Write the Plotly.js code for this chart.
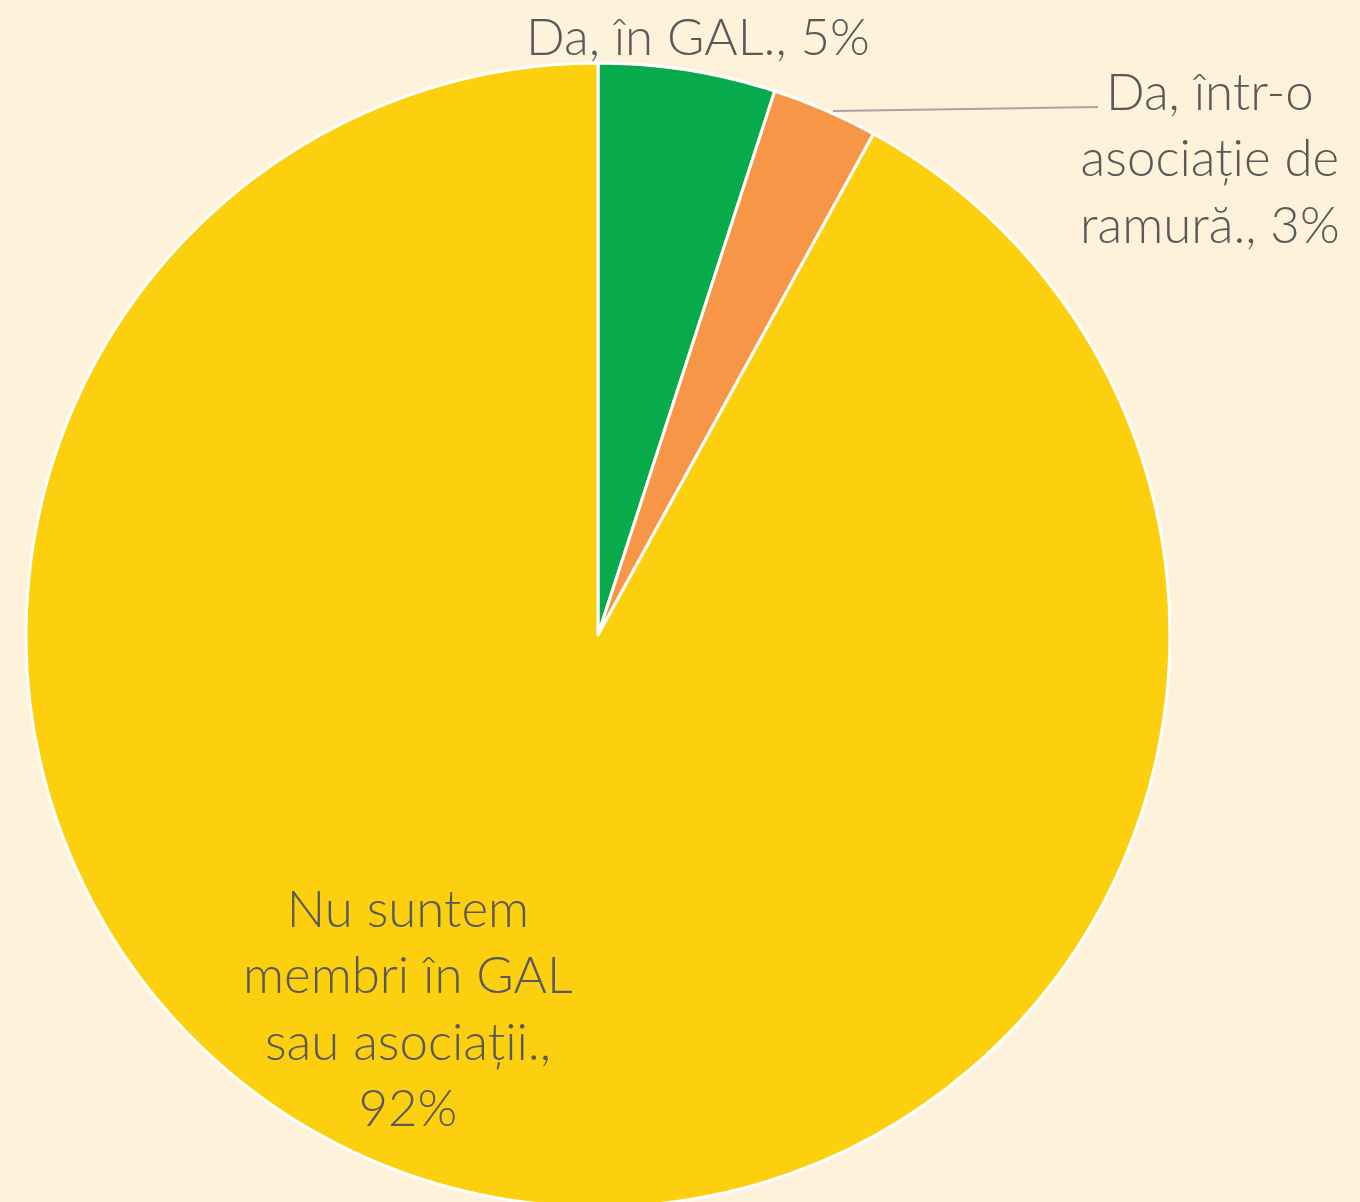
<!DOCTYPE html>
<html>
<head>
<meta charset="utf-8">
<script src="https://cdn.plot.ly/plotly-3.0.1.min.js"></script>
<style>html,body{margin:0;padding:0;overflow:hidden;background:#FFF2DA;}</style>
</head>
<body>
<div id="chart"></div>
<script>
const categories = ["Da, în GAL.", "Da, într-o asociație de ramură.", "Nu suntem membri în GAL sau asociații."];
const values = [5, 3, 92];
const labelTexts = ["Da, în GAL., 5%", "Da, într-o<br>asociație de<br>ramură., 3%", "Nu suntem<br>membri în GAL<br>sau asociații.,<br>92%"];
const colors = ["#07AB4C", "#F79646", "#FDD00F"];

const W = 1360, H = 1207;
const px = x => x / W;
const py = y => 1 - y / H;
const font = {family: "Lato, sans-serif", size: 51, color: "#595959", weight: 300};

const trace = {
  type: "pie",
  labels: categories,
  values: values,
  sort: false,
  direction: "clockwise",
  rotation: 0,
  textinfo: "none",
  hoverinfo: "label+percent",
  marker: {colors: colors, line: {color: "#FFFFFF", width: 3}},
  domain: {x: [26 / W, 1170 / W], y: [0, 1 - 63 / H]},
  showlegend: false
};

const layout = {
  width: W, height: H,
  margin: {l: 0, r: 0, t: 0, b: 0},
  paper_bgcolor: "#FFF2DA",
  plot_bgcolor: "#FFF2DA",
  showlegend: false,
  annotations: [
    {text: labelTexts[0], x: px(698), y: py(36), xref: "paper", yref: "paper", xanchor: "center", yanchor: "middle", showarrow: false, font: font},
    {text: labelTexts[1], x: px(1210), y: py(157), xref: "paper", yref: "paper", xanchor: "center", yanchor: "middle", align: "center", showarrow: false, font: font},
    {text: labelTexts[2], x: px(408), y: py(1007), xref: "paper", yref: "paper", xanchor: "center", yanchor: "middle", align: "center", showarrow: false, font: font}
  ],
  shapes: [
    {type: "line", xref: "paper", yref: "paper", x0: px(833), y0: py(111), x1: px(1098), y1: py(107), line: {color: "#A6A6A6", width: 2}}
  ]
};

Plotly.newPlot("chart", [trace], layout, {displayModeBar: false, staticPlot: true});
</script>
</body>
</html>
